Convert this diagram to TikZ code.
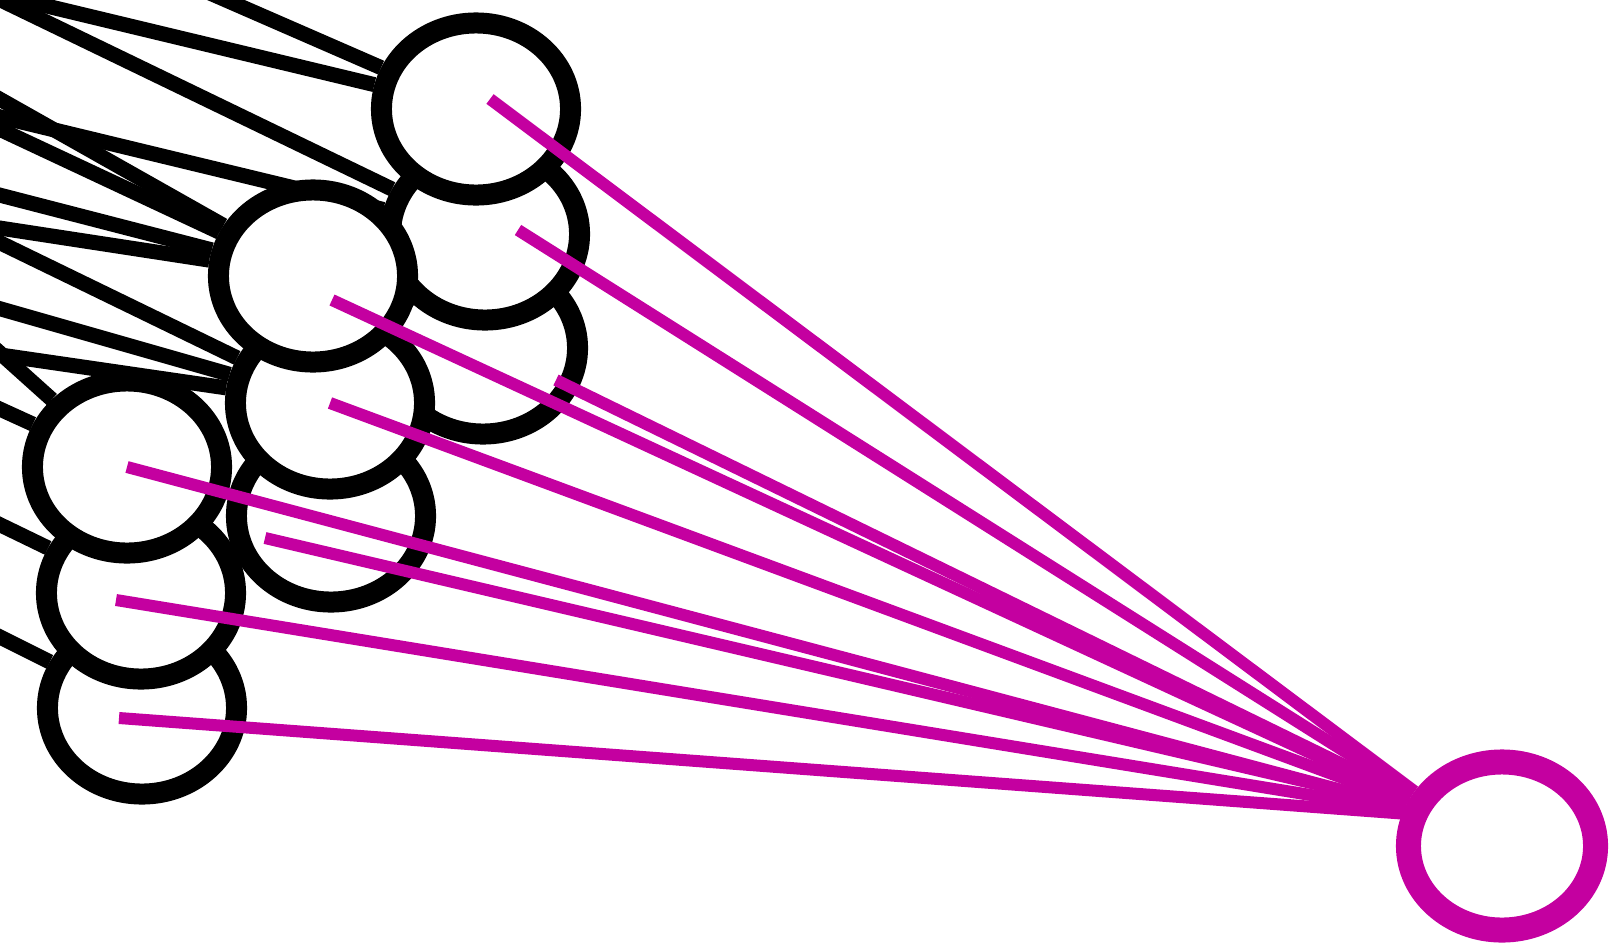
\documentclass[tikz,border=0pt]{standalone}
\usetikzlibrary{shapes.geometric,backgrounds}
\definecolor{wmag}{RGB}{196,0,160}
\tikzset{
  unit/.style={ellipse,draw=black,fill=white,line width=0.21cm,minimum width=1.89cm,minimum height=1.72cm,inner sep=0pt},
  outunit/.style={ellipse,draw=wmag,fill=white,line width=0.25cm,minimum width=1.87cm,minimum height=1.68cm,inner sep=0pt},
  link/.style={line width=0.15cm},
  wire/.style={draw=wmag,line width=0.12cm}
}
\begin{document}
\begin{tikzpicture}[x=0.01cm,y=-0.01cm]
\useasboundingbox (0,0) rectangle (1609,945);
\clip (0,0) rectangle (1609,945);

% right column, back to front
\node[unit] (rc) at (483,348) {};
\node[unit] (rb) at (485,234) {};
\node[unit] (ra) at (476,109) {};
% middle column
\node[unit] (mc) at (331,516) {};
\node[unit] (mb) at (330,403) {};
\node[unit] (ma) at (313,276) {};
% left column
\node[unit] (lc) at (142,708) {};
\node[unit] (lb) at (141,593) {};
\node[unit] (la) at (127,467) {};

\node[outunit] (out) at (1502,846) {};

% edges coming in from the layer off the left edge
\coordinate (p1) at (180,-20);
\coordinate (p2) at (-20,-10);
\coordinate (p3) at (-20,112);
\coordinate (p4) at (-20,88);
\coordinate (p5) at (-20,120);
\coordinate (p6) at (-20,190);
\coordinate (p7) at (-20,225);
\coordinate (p8) at (-20,233);
\coordinate (p9) at (-20,303);
\coordinate (p10) at (-20,352);
\coordinate (p11) at (-20,335);
\coordinate (p12) at (-20,400);
\coordinate (p13) at (-20,515);
\coordinate (p14) at (-20,627);
\begin{scope}[on background layer]
\clip (0,0) rectangle (1609,945);
\draw[link] (p1) -- (ra);
\draw[link] (p2) -- (ra);
\draw[link] (p2) -- (rb);
\draw[link] (p3) -- (rb);
\draw[link] (p4) -- (ma);
\draw[link] (p5) -- (ma);
\draw[link] (p6) -- (ma);
\draw[link] (p7) -- (ma);
\draw[link] (p8) -- (mb);
\draw[link] (p9) -- (mb);
\draw[link] (p10) -- (mb);
\draw[link] (p11) -- (la);
\draw[link] (p12) -- (la);
\draw[link] (p13) -- (lb);
\draw[link] (p14) -- (lc);
\end{scope}

% wires into the output unit
\coordinate (qa) at (490,99);
\coordinate (qb) at (518,230);
\coordinate (qc) at (556,380);
\coordinate (qd) at (332,300);
\coordinate (qm) at (265,538);
\coordinate (qh) at (116,600);
\coordinate (qi) at (119,718);
\draw[wire] (qa) -- (out.148);
\draw[wire] (qb) -- (out.150);
\draw[wire] (qc) -- (out.152);
\draw[wire] (qd) -- (out.153);
\draw[wire] (mb.center) -- (out.155);
\draw[wire] (qm) -- (out.157);
\draw[wire] (la.center) -- (out.158);
\draw[wire] (qh) -- (out.160);
\draw[wire] (qi) -- (out.162);
\end{tikzpicture}
\end{document}
